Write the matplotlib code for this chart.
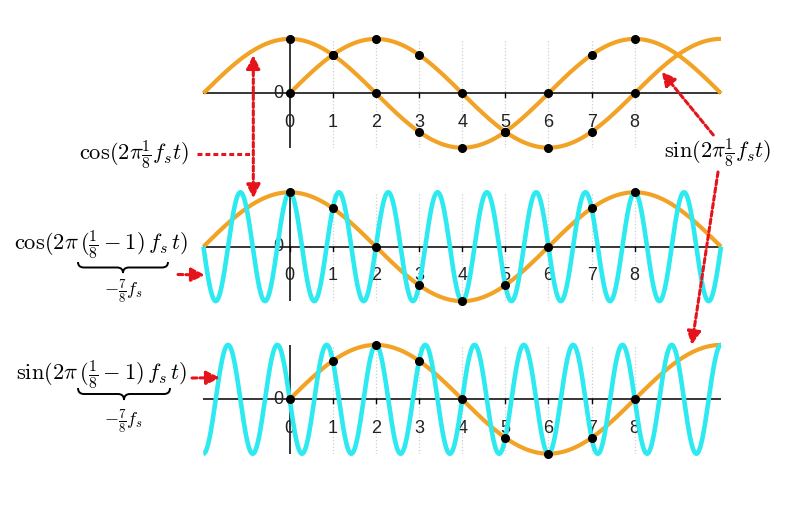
import numpy as np
import matplotlib
matplotlib.use('Agg')
import matplotlib.pyplot as plt
from matplotlib.path import Path
from matplotlib.patches import PathPatch

plt.rcParams['mathtext.fontset'] = 'cm'
plt.rcParams['font.family'] = ['Liberation Sans', 'DejaVu Sans']

# --- data -------------------------------------------------------------
sample_n = [0, 1, 2, 3, 4, 5, 6, 7, 8]
cos_samples = [1.0, 0.707, 0.0, -0.707, -1.0, -0.707, 0.0, 0.707, 1.0]
sin_samples = [0.0, 0.707, 1.0, 0.707, 0.0, -0.707, -1.0, -0.707, 0.0]
f_base = 1 / 8          # cycles per sample
f_alias = 1 / 8 - 1     # -7/8
t_range = (-2, 10)
tick_labels = ['0', '1', '2', '3', '4', '5', '6', '7', '8']

ORANGE = '#f2a224'
CYAN = '#2de9f0'
RED = '#e5141b'
GRID = '#cfcfcf'

W, H = 786, 512
fig = plt.figure(figsize=(W / 100, H / 100), dpi=100)

t = np.linspace(t_range[0], t_range[1], 1200)
t_pos = t[t >= 0]


def panel(y_axis_px):
    # axes spans peak..trough, centred on the horizontal axis line
    amp = 54.4
    left, right = 203.4, 721.0
    ax = fig.add_axes([left / W, 1 - (y_axis_px + amp) / H,
                       (right - left) / W, 2 * amp / H])
    ax.set_xlim(*t_range)
    ax.set_ylim(-1, 1)
    ax.axis('off')
    for n in sample_n[1:]:
        ax.plot([n, n], [-1, 1], color=GRID, lw=0.9, ls=':', zorder=1)
    ax.plot(list(t_range), [0, 0], color='black', lw=1.1, zorder=2)
    ax.plot([0, 0], [-1, 1], color='black', lw=1.1, zorder=2)
    for n in sample_n:
        ax.plot([n, n], [0, -0.07], color='black', lw=1.0, zorder=2)
        ax.text(n, -0.535, tick_labels[n], ha='center', va='center',
                fontsize=13, color='#222222', zorder=2.2)
    ax.text(-0.14, 0.0, '0', ha='right', va='center', fontsize=13,
            color='#222222', zorder=2.2)
    return ax


def curve(ax, x, y, color, lw=3.0, z=3):
    ax.plot(x, y, color=color, lw=lw, solid_capstyle='butt',
            clip_on=False, zorder=z)


def dots(ax, y):
    ax.plot(sample_n, y, 'o', color='black', ms=5.5, clip_on=False, zorder=5)


# top panel: cos and sin at f_s/8
ax1 = panel(93.3)
curve(ax1, t, np.cos(2 * np.pi * f_base * t), ORANGE)
curve(ax1, t_pos, np.sin(2 * np.pi * f_base * t_pos), ORANGE)
dots(ax1, cos_samples)
dots(ax1, sin_samples)

# middle panel: cos alias
ax2 = panel(246.7)
curve(ax2, t, np.cos(2 * np.pi * f_base * t), ORANGE)
curve(ax2, t, np.cos(2 * np.pi * f_alias * t), CYAN, lw=3.3, z=4)
dots(ax2, cos_samples)

# bottom panel: sin alias
ax3 = panel(399.3)
curve(ax3, t_pos, np.sin(2 * np.pi * f_base * t_pos), ORANGE)
curve(ax3, t, np.sin(2 * np.pi * f_alias * t), CYAN, lw=3.3, z=4)
dots(ax3, sin_samples)

# --- annotation overlay in pixel coords ------------------------------
ov = fig.add_axes([0, 0, 1, 1], zorder=10)
ov.set_xlim(0, W)
ov.set_ylim(H, 0)
ov.axis('off')
ov.patch.set_alpha(0)

dash = (0, (1.6, 1.0))
arrow_kw = dict(color=RED, lw=2.2, linestyle=dash, mutation_scale=20,
                shrinkA=0, shrinkB=0)


def arrow(start, tip, style='-|>'):
    ov.annotate('', xy=tip, xytext=start,
                arrowprops=dict(arrowstyle=style, **arrow_kw))


def brace(x0, x1, y0, h, lw=1.4):
    xm = (x0 + x1) / 2
    w = 6
    ym = y0 + h / 2
    verts = [(x0, y0), (x0, ym), (x0 + w, ym),
             (xm - w, ym), (xm, ym), (xm, y0 + h),
             (xm, ym), (xm + w, ym),
             (x1 - w, ym), (x1, ym), (x1, y0)]
    codes = [Path.MOVETO, Path.CURVE3, Path.CURVE3,
             Path.LINETO, Path.CURVE3, Path.CURVE3,
             Path.CURVE3, Path.CURVE3,
             Path.LINETO, Path.CURVE3, Path.CURVE3]
    ov.add_patch(PathPatch(Path(verts, codes), fc='none', ec='black', lw=lw))


MATH_SIZE = 16.2

# cos(2 pi f/8 t) label with double arrow
ov.text(134, 155, r'$\cos(2\pi\frac{1}{8}f_st)$', fontsize=MATH_SIZE,
        ha='center', va='center')
ov.plot([197, 253.3], [153.5, 153.5], color=RED, lw=2.2, linestyle=dash)
arrow((253.3, 198.3), (253.3, 55), style='<|-|>')

# sin(2 pi f/8 t) label with two arrows
ov.text(718, 153, r'$\sin(2\pi\frac{1}{8}f_st)$', fontsize=MATH_SIZE,
        ha='center', va='center')
arrow((713.3, 135), (661.7, 71.7))
arrow((718, 172), (691.7, 345))

# alias labels
ov.text(101, 245, r'$\cos(2\pi\,(\frac{1}{8}-1)\,f_s\,t)$', fontsize=MATH_SIZE,
        ha='center', va='center')
brace(78, 168, 262, 11)
ov.text(123, 291, r'$-\frac{7}{8}f_s$', fontsize=13, ha='center', va='center')
arrow((178, 274.5), (205, 275))

ov.text(102, 375, r'$\sin(2\pi\,(\frac{1}{8}-1)\,f_s\,t)$', fontsize=MATH_SIZE,
        ha='center', va='center')
brace(78, 170, 388, 12)
ov.text(123, 421, r'$-\frac{7}{8}f_s$', fontsize=13, ha='center', va='center')
arrow((192, 378), (220, 377.7))

fig.savefig('out.png', dpi=100)
